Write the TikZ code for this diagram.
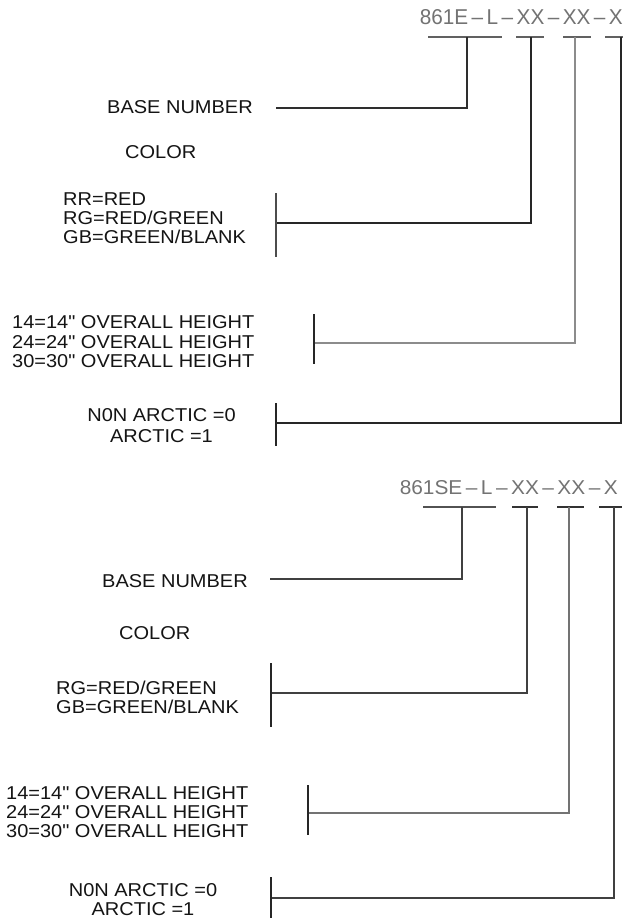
\documentclass[tikz,border=0pt]{standalone}
\usepackage{fontspec}
\setmainfont{Liberation Sans}[FakeStretch=1.075, Ligatures=TeXOff]
\newfontfamily\codefont{Liberation Sans}
\usepackage{graphicx}
\tikzset{
  lbl/.style={font=\fontsize{18.6}{19}\selectfont, inner sep=0pt, text=black!92},
  lblL/.style={lbl, anchor=base west},
  lblC/.style={lbl, anchor=base},
  codetxt/.style={inner sep=0pt, anchor=south east, text=black!55},
  uline/.style={line width=2.4pt, black!62},
  darklink/.style={line width=2pt, black!82},
  thinlink/.style={line width=1.6pt, black!85},
  greylink/.style={line width=2.6pt, black!45},
  barline/.style={line width=1.7pt, black!85},
  botlink/.style={line width=1.5pt, black!75},
  botgrey/.style={line width=2.2pt, black!55},
}
\newcommand{\codestr}[2]{\resizebox{#1pt}{#2pt}{\codefont 861E\,\textendash\,L\,\textendash\,XX\,\textendash\,XX\,\textendash\,X}}
\newcommand{\codestrS}[2]{\resizebox{#1pt}{#2pt}{\codefont 861SE\,\textendash\,L\,\textendash\,XX\,\textendash\,XX\,\textendash\,X}}
\begin{document}
\begin{tikzpicture}[x=1pt,y=-1pt]
\useasboundingbox[fill=white] (0,0) rectangle (623,918);

% ---------------- top part ----------------
\node[codetxt] (code1) at (623,25) {\codestr{203}{15}};
\coordinate (u1a) at (428,37); \coordinate (u1b) at (502,37);
\coordinate (u2a) at (516,37); \coordinate (u2b) at (544,37);
\coordinate (u3a) at (563,37); \coordinate (u3b) at (591,37);
\coordinate (u4a) at (605,37); \coordinate (u4b) at (623,37);
\draw[uline] (u1a) -- (u1b);
\draw[uline] (u2a) -- (u2b);
\draw[uline] (u3a) -- (u3b);
\draw[uline] (u4a) -- (u4b);

\coordinate (s1) at (467,37);
\coordinate (s2) at (531,37);
\coordinate (s3) at (575,37);
\coordinate (s4) at (621,37);

\node[lblL] (base1) at (107,113) {BASE NUMBER};
\node[lblL] (color1) at (125,158) {COLOR};
\node[lblL] (col1a) at (63,205) {RR=RED};
\node[lblL] (col1b) at (63,224) {RG=RED/GREEN};
\node[lblL] (col1c) at (63,243) {GB=GREEN/BLANK};
\node[lblL] (h1a) at (12,328) {14=14" OVERALL HEIGHT};
\node[lblL] (h1b) at (12,348) {24=24" OVERALL HEIGHT};
\node[lblL] (h1c) at (12,367) {30=30" OVERALL HEIGHT};
\node[lblC] (a1a) at (161.5,421) {N0N ARCTIC =0};
\node[lblC] (a1b) at (161.5,442) {ARCTIC =1};

\coordinate (e1) at (276,108);
\coordinate (e2) at (276,223);
\coordinate (e3) at (314,343);
\coordinate (e4) at (276,423);
\coordinate (b2t) at (276,193); \coordinate (b2b) at (276,257);
\coordinate (b3t) at (314,314); \coordinate (b3b) at (314,364);
\coordinate (b4t) at (276,403); \coordinate (b4b) at (276,446);

\draw[darklink] (s1) |- (e1);
\draw[thinlink] (s2) |- (e2);
\draw[greylink] (s3) |- (e3);
\draw[thinlink] (s4) |- (e4);
\draw[line width=2.2pt, black!70] (b2t) -- (b2b);
\draw[barline] (b3t) -- (b3b);
\draw[barline] (b4t) -- (b4b);

% ---------------- bottom part ----------------
\node[codetxt] (code2) at (618,495) {\codestrS{218}{14}};
\coordinate (v1a) at (423,507); \coordinate (v1b) at (496,507);
\coordinate (v2a) at (512,507); \coordinate (v2b) at (538,507);
\coordinate (v3a) at (557,507); \coordinate (v3b) at (584,507);
\coordinate (v4a) at (599,507); \coordinate (v4b) at (622,507);
\draw[uline, black!68, line width=2pt] (v1a) -- (v1b);
\draw[uline, black!80, line width=1.8pt] (v2a) -- (v2b);
\draw[uline, black!80, line width=1.8pt] (v3a) -- (v3b);
\draw[uline, black!80, line width=1.8pt] (v4a) -- (v4b);

\coordinate (t1) at (462,507);
\coordinate (t2) at (527,507);
\coordinate (t3) at (569,507);
\coordinate (t4) at (614,507);

\node[lblL] (base2) at (102,587) {BASE NUMBER};
\node[lblL] (color2) at (119,639) {COLOR};
\node[lblL] (col2a) at (56,694) {RG=RED/GREEN};
\node[lblL] (col2b) at (56,713) {GB=GREEN/BLANK};
\node[lblL] (h2a) at (6,799) {14=14" OVERALL HEIGHT};
\node[lblL] (h2b) at (6,818) {24=24" OVERALL HEIGHT};
\node[lblL] (h2c) at (6,837) {30=30" OVERALL HEIGHT};
\node[lblC] (a2a) at (143,896) {N0N ARCTIC =0};
\node[lblC] (a2b) at (143,915) {ARCTIC =1};

\coordinate (f1) at (270,579);
\coordinate (f2) at (271,693);
\coordinate (f3) at (308,813);
\coordinate (f4) at (271,898);
\coordinate (c2t) at (271,663); \coordinate (c2b) at (271,727);
\coordinate (c3t) at (308,785); \coordinate (c3b) at (308,835);
\coordinate (c4t) at (271,877); \coordinate (c4b) at (271,920);

\draw[botlink] (t1) |- (f1);
\draw[botlink] (t2) |- (f2);
\draw[botgrey] (t3) |- (f3);
\draw[botlink] (t4) |- (f4);
\draw[botlink, black!85] (c2t) -- (c2b);
\draw[botlink, black!85] (c3t) -- (c3b);
\draw[botlink, black!85] (c4t) -- (c4b);
\end{tikzpicture}
\end{document}
